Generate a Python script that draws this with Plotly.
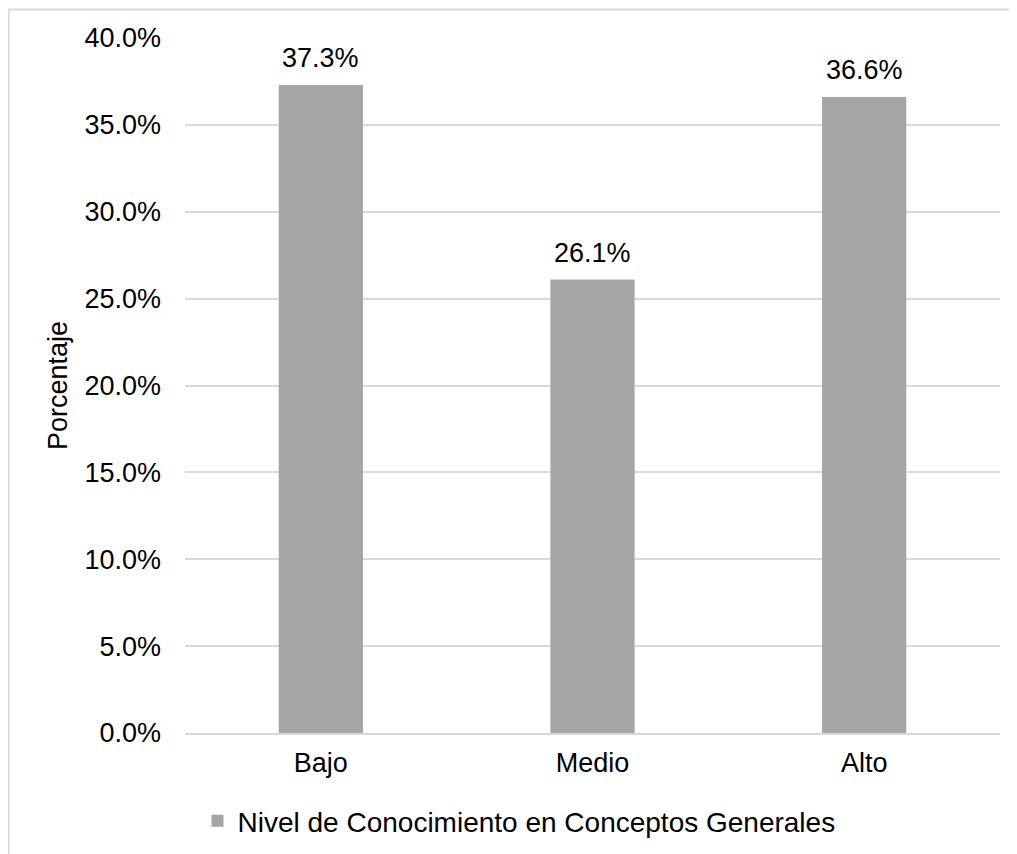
import plotly.graph_objects as go

categories = ["Bajo", "Medio", "Alto"]
values = [0.373, 0.261, 0.366]
series_name = "Nivel de Conocimiento en Conceptos Generales"
y_tick_vals = [0.0, 0.05, 0.10, 0.15, 0.20, 0.25, 0.30, 0.35, 0.40]

FONT = "Liberation Sans, Arial, sans-serif"
FS = 27
TXT = "#000000"
W, H = 1017, 854
L, R, T, B = 177, 25, 30, 129
pw = W - L - R
ph = H - T - B

fig = go.Figure()
fig.add_trace(go.Bar(
    x=categories, y=values, name=series_name,
    marker=dict(color="#A5A5A5", line=dict(width=0)),
    showlegend=True,
))

for c, v in zip(categories, values):
    fig.add_annotation(x=c, y=v, xref="x", yref="y",
                       text=f"{v*100:.1f}%", showarrow=False,
                       yanchor="bottom", yshift=10,
                       font=dict(family=FONT, size=FS, color=TXT))

fig.update_layout(
    width=W, height=H,
    margin=dict(l=L, r=R, t=T, b=B, autoexpand=False),
    paper_bgcolor="white", plot_bgcolor="white",
    font=dict(family=FONT, size=FS, color=TXT),
    bargap=0.69,
    showlegend=True,
    legend=dict(
        orientation="h", x=(511 - L) / pw, xanchor="center",
        y=(ph - (813 - T)) / ph, yanchor="middle",
        font=dict(family=FONT, size=28, color=TXT),
        bgcolor="rgba(0,0,0,0)",
    ),
    xaxis=dict(
        showgrid=False, showline=True, linecolor="#D9D9D9", linewidth=2,
        ticks="", ticklabelstandoff=5,
        tickfont=dict(family=FONT, size=FS, color=TXT),
    ),
    yaxis=dict(
        range=[0, 0.4], tickvals=y_tick_vals, tickformat=".1%",
        showgrid=True, gridcolor="#D9D9D9", gridwidth=2,
        zeroline=False, showline=False, ticks="",
        ticklabelstandoff=23,
        tickfont=dict(family=FONT, size=FS, color=TXT),
        title=dict(text="Porcentaje", standoff=8,
                   font=dict(family=FONT, size=FS, color=TXT)),
        automargin=False,
    ),
)

# chart-area border (partially outside the captured frame)
fig.add_shape(type="rect", xref="paper", yref="paper",
              x0=(0.5 - L) / pw, x1=2.0,
              y0=-1.0, y1=(ph - (1.5 - T)) / ph,
              line=dict(color="#D9D9D9", width=2), fillcolor="rgba(0,0,0,0)",
              layer="below")

fig.write_html("out.html")
